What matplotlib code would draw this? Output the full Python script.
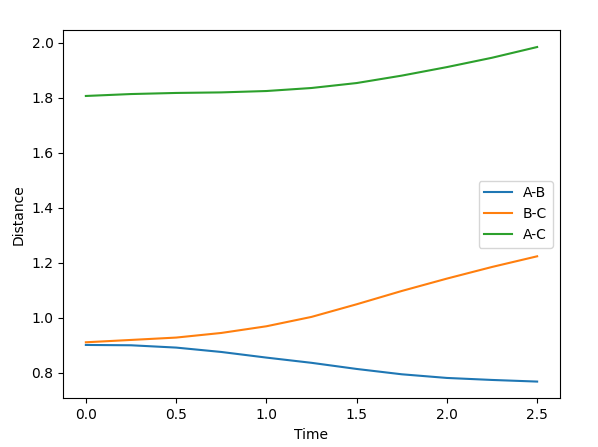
import numpy as np
import matplotlib
matplotlib.use('Agg')
import matplotlib.pyplot as plt

time = [0.0, 0.25, 0.5, 0.75, 1.0, 1.25, 1.5, 1.75, 2.0, 2.25, 2.5]
ab = [0.9005, 0.8993, 0.8909, 0.875, 0.8545, 0.8355, 0.8132, 0.7938, 0.7805, 0.7732, 0.7673]
bc = [0.9102, 0.9187, 0.9273, 0.9441, 0.9684, 1.0025, 1.0484, 1.0968, 1.1418, 1.1841, 1.2229]
ac = [1.806, 1.813, 1.817, 1.819, 1.824, 1.835, 1.853, 1.880, 1.911, 1.945, 1.984]
labels = ['A-B', 'B-C', 'A-C']


def main():
    fig = plt.figure(figsize=(5.98, 4.47), dpi=100)
    ax = fig.add_subplot(111)
    fig.subplots_adjust(left=63.3 / 598, right=559.7 / 598,
                        bottom=1 - 398.3 / 447, top=1 - 30.3 / 447)

    for series, lab in zip([ab, bc, ac], labels):
        ax.plot(time, series, label=lab)

    ax.set_xlabel('Time')
    ax.set_ylabel('Distance')
    ax.legend(loc='center right')
    fig.savefig('out.png', dpi=100)


if __name__ == '__main__':
    main()
